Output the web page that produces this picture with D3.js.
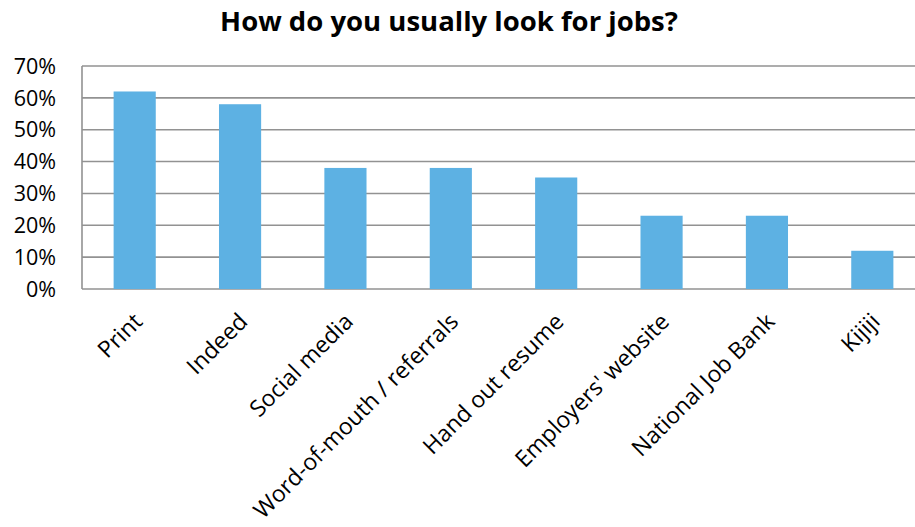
<!DOCTYPE html>
<html>
<head>
<meta charset="utf-8">
<script src="https://cdn.jsdelivr.net/npm/d3@7"></script>
<style>
  body { margin: 0; background: #fff; }
  svg { display: block; font-family: "Open Sans", sans-serif; }
</style>
</head>
<body>
<div id="chart"></div>
<script>
// Chart data
const categories = ["Print", "Indeed", "Social media", "Word-of-mouth / referrals",
                    "Hand out resume", "Employers' website", "National Job Bank", "Kijiji"];
const values = [0.62, 0.58, 0.38, 0.38, 0.35, 0.23, 0.23, 0.12];
const yTicks = [0, 0.1, 0.2, 0.3, 0.4, 0.5, 0.6, 0.7];
const title = "How do you usually look for jobs?";

function init() {
    const width = 915;
    const height = 527;
    const margin = { top: 66, right: -10, bottom: 238, left: 82 };

    const svg = d3.select("#chart").append("svg")
                  .attr("width", width)
                  .attr("height", height);

    // scales
    const x = d3.scaleBand()
                .domain(categories)
                .range([margin.left, width - margin.right])
                .paddingInner(0.6)
                .paddingOuter(0.3);

    const y = d3.scaleLinear()
                .domain([0, 0.7])
                .range([height - margin.bottom, margin.top]);

    // gridlines
    svg.append("g")
       .selectAll("line")
       .data(yTicks)
       .enter()
       .append("line")
       .attr("x1", margin.left)
       .attr("x2", width - margin.right)
       .attr("y1", d => y(d))
       .attr("y2", d => y(d))
       .attr("stroke", "#929292")
       .attr("stroke-width", 1.6);

    // left axis line
    svg.append("line")
       .attr("x1", margin.left)
       .attr("x2", margin.left)
       .attr("y1", y(0.7))
       .attr("y2", y(0))
       .attr("stroke", "#929292")
       .attr("stroke-width", 1.6);

    // y tick labels
    svg.append("g")
       .selectAll("text")
       .data(yTicks)
       .enter()
       .append("text")
       .attr("x", 56)
       .attr("y", d => y(d))
       .attr("dy", "0.36em")
       .attr("text-anchor", "end")
       .attr("font-size", 21.5)
       .attr("fill", "#000")
       .text(d3.format(".0%"));

    // bars
    svg.append("g")
       .selectAll("rect")
       .data(values)
       .enter()
       .append("rect")
       .attr("x", (d, i) => x(categories[i]))
       .attr("width", x.bandwidth())
       .attr("y", d => y(d))
       .attr("height", d => y(0) - y(d))
       .attr("fill", "#5DB1E3");

    // x labels, rotated
    svg.append("g")
       .selectAll("text")
       .data(categories)
       .enter()
       .append("text")
       .attr("transform", d => {
           const cx = x(d) + x.bandwidth() / 2 + 9;
           const cy = y(0) + 34;
           return `translate(${cx},${cy}) rotate(-45)`;
       })
       .attr("text-anchor", "end")
       .attr("font-size", 23)
       .attr("fill", "#000")
       .text(d => d);

    // title
    svg.append("text")
       .attr("x", 449)
       .attr("y", 31)
       .attr("text-anchor", "middle")
       .attr("font-size", 27.5)
       .attr("font-weight", "bold")
       .attr("fill", "#000")
       .text(title);
}

window.onload = init;
</script>
</body>
</html>
